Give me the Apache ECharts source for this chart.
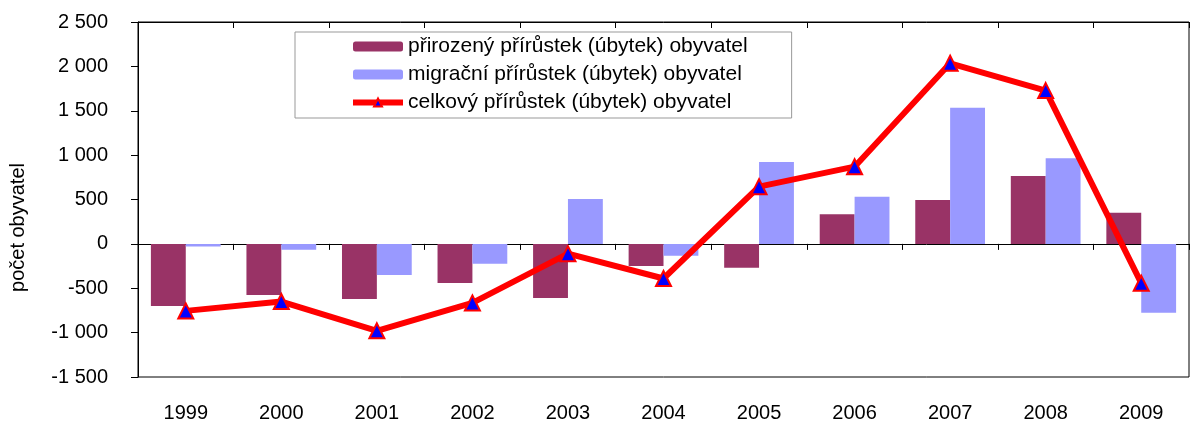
<!DOCTYPE html>
<html>
<head>
<meta charset="utf-8">
<script src="https://cdn.jsdelivr.net/npm/echarts@6/dist/echarts.min.js"></script>
<style>
  html, body { margin: 0; padding: 0; background: #fff; }
  #chart { width: 1192px; height: 428px; }
</style>
</head>
<body>
<div id="chart"></div>
<script>
  'use strict';

  const years = ['1999', '2000', '2001', '2002', '2003', '2004', '2005', '2006', '2007', '2008', '2009'];
  const natural = [-700, -575, -620, -440, -610, -250, -270, 335, 495, 765, 350];
  const migration = [-30, -65, -350, -225, 505, -135, 923, 530, 1535, 965, -775];
  const total = [-755, -650, -980, -665, -110, -390, 645, 870, 2035, 1727, -443];

  const names = [
    'přirozený přírůstek (úbytek) obyvatel',
    'migrační přírůstek (úbytek) obyvatel',
    'celkový přírůstek (úbytek) obyvatel'
  ];

  const font = 'Liberation Sans, Arial, sans-serif';

  function fmt(v) {
    let s = String(Math.abs(v));
    s = s.replace(/\B(?=(\d{3})+(?!\d))/g, ' ');
    return (v < 0 ? '-' : '') + s;
  }

  let chart = echarts.init(document.getElementById('chart'));

  chart.setOption({
    animation: false,
    textStyle: { fontFamily: font },
    grid: {
      left: 137, top: 22, right: 3, bottom: 51,
      show: true, borderColor: '#000', borderWidth: 1
    },
    legend: {
      orient: 'vertical',
      left: 295, top: 32,
      padding: [4, 44, 5, 55],
      itemGap: 7,
      itemWidth: 50, itemHeight: 10,
      borderColor: '#999', borderWidth: 1,
      textStyle: { fontSize: 21, color: '#000', fontFamily: font },
      data: [
        names[0],
        names[1],
        { name: names[2], lineStyle: { width: 6, color: '#FF0000' } }
      ]
    },
    xAxis: [
      {
        type: 'category',
        data: years,
        axisLine: { onZero: true, lineStyle: { color: '#000', width: 1 } },
        axisTick: { show: true, length: 6, lineStyle: { color: '#000' } },
        axisLabel: { show: false }
      },
      {
        type: 'category',
        data: years,
        position: 'bottom',
        axisLine: { show: false },
        axisTick: { show: false },
        axisLabel: { margin: 26, fontSize: 20, color: '#000', fontFamily: font }
      },
      {
        type: 'category',
        data: years,
        axisLine: { onZero: true, lineStyle: { color: '#000', width: 1 } },
        axisTick: { show: true, inside: true, length: 6, lineStyle: { color: '#000' } },
        axisLabel: { show: false }
      }
    ],
    yAxis: {
      type: 'value',
      min: -1500, max: 2500, interval: 500,
      name: 'počet obyvatel',
      nameLocation: 'middle',
      nameGap: 110,
      nameTextStyle: { fontSize: 20, color: '#000', fontFamily: font, padding: [0, 56, 0, 0] },
      axisLine: { show: true, lineStyle: { color: '#000' } },
      axisTick: { show: true, length: 7, lineStyle: { color: '#000' } },
      splitLine: { show: false },
      axisLabel: { margin: 30, fontSize: 20, color: '#000', fontFamily: font, formatter: fmt }
    },
    series: [
      {
        name: names[0], type: 'bar', data: natural,
        barGap: 0, barCategoryGap: '27%',
        itemStyle: { color: '#993366' }
      },
      {
        name: names[1], type: 'bar', data: migration,
        itemStyle: { color: '#9999FF' }
      },
      {
        name: names[2], type: 'line', data: total,
        symbol: 'triangle', symbolSize: 15,
        lineStyle: { color: '#FF0000', width: 6 },
        itemStyle: { color: '#0000FF', borderColor: '#FF0000', borderWidth: 2 },
        z: 5
      }
    ]
  });
</script>
</body>
</html>
